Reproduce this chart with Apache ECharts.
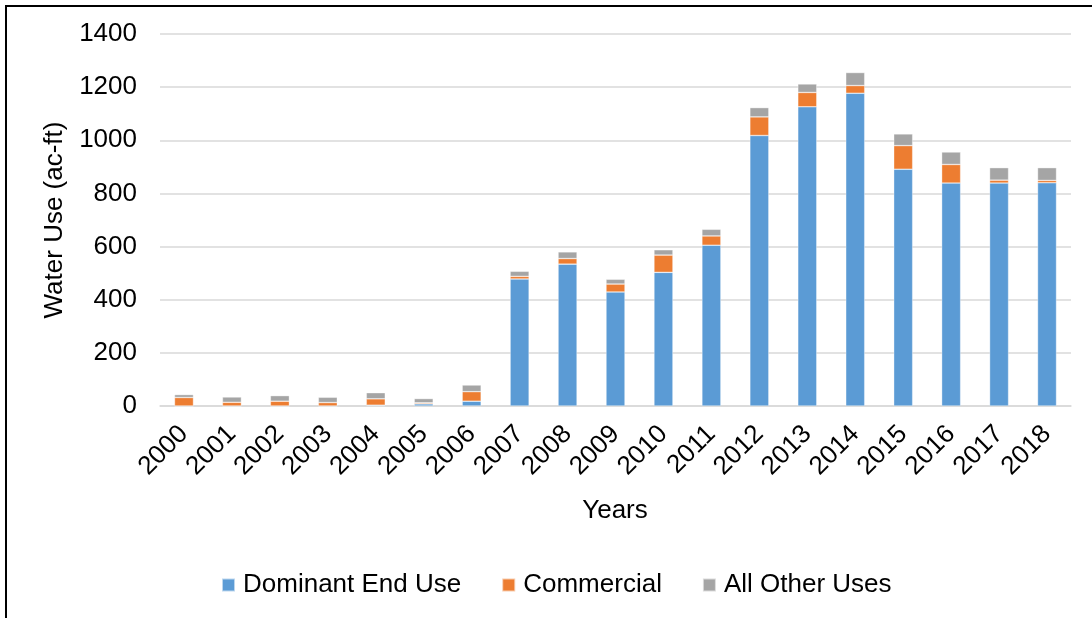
<!DOCTYPE html>
<html>
<head>
<meta charset="utf-8">
<script src="https://cdn.jsdelivr.net/npm/echarts@6/dist/echarts.min.js"></script>
<style>
  html, body { margin: 0; padding: 0; background: #fff; }
  #chart { width: 1092px; height: 618px; }
</style>
</head>
<body>
<div id="chart"></div>
<script>
// Annual water use by category (acre-feet)
const years = ['2000','2001','2002','2003','2004','2005','2006','2007','2008','2009',
               '2010','2011','2012','2013','2014','2015','2016','2017','2018'];
const dominantEndUse = [0, 0, 0, 0, 3, 8, 18, 478, 534, 429, 503, 605, 1018, 1126, 1177, 891, 839, 839, 840];
const commercial     = [32, 14, 18, 13, 24, 4, 36, 10, 21, 30, 65, 35, 70, 54, 29, 89, 70, 11, 9];
const allOtherUses   = [11, 20, 21, 20, 23, 16, 25, 19, 25, 18, 20, 25, 35, 32, 49, 44, 47, 47, 48];
const yTicks = { min: 0, max: 1400, interval: 200 };

const FONT = 'Liberation Sans, Arial, sans-serif';
const FS = 26;
const chart = echarts.init(document.getElementById('chart'), null, { renderer: 'canvas' });

function barSeries(name, data, color) {
  return {
    name, type: 'bar', stack: 'total', data,
    barWidth: 19,
    itemStyle: { color, borderColor: 'rgba(255,255,255,0.6)', borderWidth: 0.6 },
    emphasis: { disabled: true }
  };
}

chart.setOption({
  animation: false,
  backgroundColor: '#fff',
  textStyle: { fontFamily: FONT },
  grid: { left: 160, right: 21, top: 34, bottom: 212, containLabel: false },
  graphic: [
    { type: 'line', shape: { x1: 5, y1: 6, x2: 1092, y2: 6 }, style: { stroke: '#000', lineWidth: 2 } },
    { type: 'line', shape: { x1: 6, y1: 5, x2: 6, y2: 618 }, style: { stroke: '#000', lineWidth: 2 } },
    { type: 'text', x: 615, y: 511,
      style: { text: 'Years', font: FS + 'px ' + FONT, fill: '#000', align: 'center', verticalAlign: 'middle' } }
  ],
  legend: {
    left: 216, top: 567,
    itemWidth: 13, itemHeight: 13, itemGap: 40,
    icon: 'rect',
    textStyle: { fontSize: FS, color: '#000', fontFamily: FONT, padding: [0, 0, 0, 3] },
    data: ['Dominant End Use', 'Commercial', 'All Other Uses']
  },
  xAxis: {
    type: 'category', data: years,
    axisLine: { lineStyle: { color: '#D9D9D9', width: 1.5 } },
    axisTick: { show: false },
    axisLabel: { rotate: 45, fontSize: FS, color: '#000', margin: 24, interval: 0 }
  },
  yAxis: {
    type: 'value', min: yTicks.min, max: yTicks.max, interval: yTicks.interval,
    name: 'Water Use (ac-ft)', nameLocation: 'middle', nameGap: 86,
    nameTextStyle: { fontSize: FS, color: '#000' },
    axisLine: { show: false }, axisTick: { show: false },
    axisLabel: { fontSize: FS, color: '#000', margin: 23, formatter: v => String(v) },
    splitLine: { lineStyle: { color: '#D9D9D9', width: 1.5 } }
  },
  series: [
    barSeries('Dominant End Use', dominantEndUse, '#5B9BD5'),
    barSeries('Commercial', commercial, '#ED7D31'),
    barSeries('All Other Uses', allOtherUses, '#A5A5A5')
  ]
});
</script>
</body>
</html>
